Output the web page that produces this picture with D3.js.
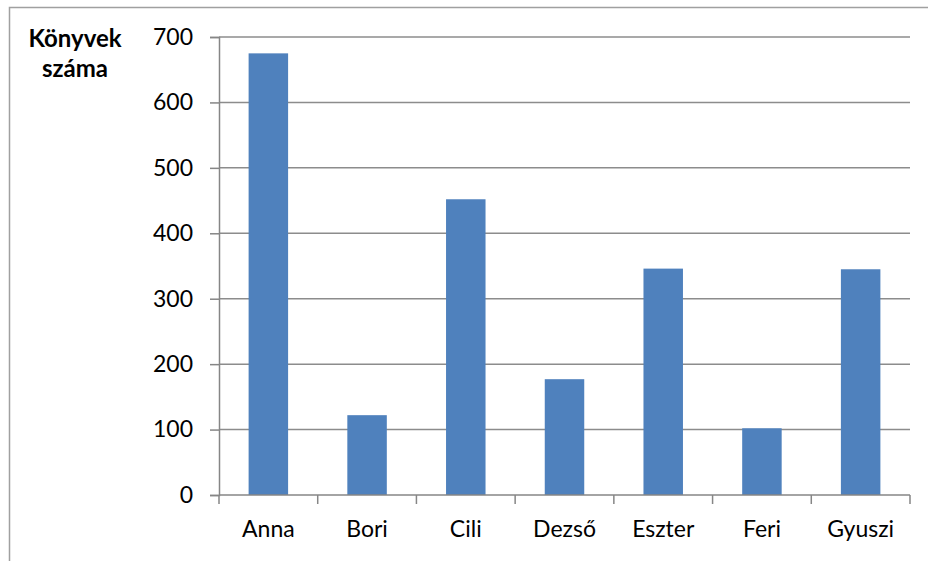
<!DOCTYPE html>
<html>
<head>
<meta charset="utf-8">
<script src="https://cdn.jsdelivr.net/npm/d3@7"></script>
<style>
    body { margin: 0; background: #fff; }
    text { font-family: Lato, "Open Sans", sans-serif; fill: #000; }
</style>
</head>
<body>
<div id="main"></div>
<script>
const names = ["Anna", "Bori", "Cili", "Dezső", "Eszter", "Feri", "Gyuszi"];
const books = [675, 122, 452, 177, 346, 102, 345];
const yTicks = [0, 100, 200, 300, 400, 500, 600, 700];
const yTitle = ["Könyvek", "száma"];

const ctx = {
    W: 928,
    H: 561,
    left: 219,
    right: 910,
    top: 37,
    bottom: 495,
};

function createViz() {
    let svgEl = d3.select("#main").append("svg")
        .attr("width", ctx.W)
        .attr("height", ctx.H);

    // outer chart frame (runs past the window on right and bottom)
    svgEl.append("rect")
        .attr("x", 9.5).attr("y", 7.5)
        .attr("width", 1000).attr("height", 1000)
        .attr("fill", "none")
        .attr("stroke", "#a0a0a0")
        .attr("stroke-width", 1.5);

    let x = d3.scaleBand()
        .domain(names)
        .range([ctx.left, ctx.right])
        .paddingInner(0.6)
        .paddingOuter(0.3);

    let y = d3.scaleLinear()
        .domain([0, 700])
        .range([ctx.bottom, ctx.top]);

    // gridlines
    svgEl.append("g")
        .selectAll("line")
        .data(yTicks.filter(d => d > 0))
        .enter()
        .append("line")
        .attr("x1", ctx.left).attr("x2", ctx.right)
        .attr("y1", d => y(d)).attr("y2", d => y(d))
        .attr("stroke", "#8c8c8c")
        .attr("stroke-width", 1.5);

    // bars
    svgEl.append("g")
        .selectAll("rect")
        .data(names)
        .enter()
        .append("rect")
        .attr("x", d => x(d))
        .attr("width", x.bandwidth())
        .attr("y", (d, i) => y(books[i]))
        .attr("height", (d, i) => y(0) - y(books[i]))
        .attr("fill", "#4f81bd");

    // y axis
    let yAxis = svgEl.append("g")
        .attr("transform", "translate(" + ctx.left + ",0)")
        .call(d3.axisLeft(y).tickValues(yTicks).tickSize(9).tickPadding(17));
    yAxis.selectAll("text").style("font-size", "23px");

    // x axis with ticks between categories
    let xTickPos = d3.range(names.length + 1).map(i => ctx.left + i * x.step());
    let xAxis = svgEl.append("g");
    xAxis.append("line")
        .attr("x1", ctx.left).attr("x2", ctx.right)
        .attr("y1", ctx.bottom).attr("y2", ctx.bottom);
    xAxis.selectAll(".tk")
        .data(xTickPos)
        .enter()
        .append("line")
        .attr("class", "tk")
        .attr("x1", d => d).attr("x2", d => d)
        .attr("y1", ctx.bottom).attr("y2", ctx.bottom + 9);
    xAxis.selectAll("line").attr("stroke", "#868686").attr("stroke-width", 1.5);
    xAxis.selectAll("text")
        .data(names)
        .enter()
        .append("text")
        .attr("x", d => x(d) + x.bandwidth() / 2)
        .attr("y", 537)
        .attr("text-anchor", "middle")
        .style("font-size", "23px")
        .text(d => d);

    yAxis.select(".domain").attr("stroke", "#868686").attr("stroke-width", 1.5);
    yAxis.selectAll(".tick line").attr("stroke", "#868686").attr("stroke-width", 1.5);

    // axis title
    svgEl.append("g")
        .selectAll("text")
        .data(yTitle)
        .enter()
        .append("text")
        .attr("x", 75)
        .attr("y", (d, i) => 47 + i * 30)
        .attr("text-anchor", "middle")
        .style("font-size", "24px")
        .style("font-weight", "bold")
        .text(d => d);
}

createViz();
</script>
</body>
</html>
